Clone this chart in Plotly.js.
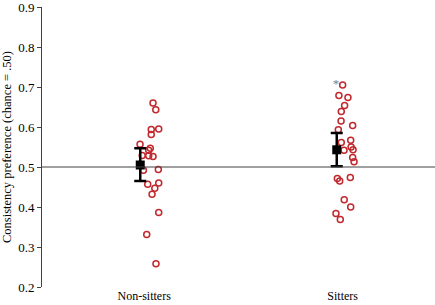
<!DOCTYPE html>
<html><head><meta charset="utf-8">
<script src="https://cdn.plot.ly/plotly-3.0.1.min.js"></script>
<style>html,body{margin:0;padding:0;background:#fff}#c{width:435px;height:305px}</style>
</head><body><div id="c"></div>
<script>
var categories = ["Non-sitters", "Sitters"];
var groupPos = [0.5, 1.5];
var labelPos = [0.52, 1.53];
var nonSittersX = [0.565,0.579,0.556,0.594,0.556,0.499,0.551,0.543,0.510,0.543,0.565,0.516,0.592,0.538,0.594,0.574,0.560,0.594,0.533,0.580];
var nonSittersY = [0.660,0.643,0.594,0.595,0.581,0.557,0.547,0.542,0.529,0.528,0.526,0.492,0.494,0.457,0.460,0.447,0.432,0.386,0.331,0.258];
var sittersX = [1.530,1.511,1.557,1.540,1.523,1.522,1.581,1.508,1.523,1.571,1.573,1.583,1.537,1.581,1.588,1.503,1.515,1.569,1.538,1.571,1.496,1.518];
var sittersY = [0.705,0.679,0.674,0.654,0.639,0.615,0.604,0.593,0.561,0.567,0.550,0.543,0.542,0.524,0.513,0.471,0.465,0.474,0.418,0.400,0.384,0.369];
var means = [0.505, 0.543];
var errUpper = [0.042, 0.042];
var errLower = [0.040, 0.041];
var starX = [1.496], starY = [0.705];
var chance = 0.5;

var FONT = 'Liberation Serif';
var red = '#c0282d';
var traces = [
  {x: nonSittersX, y: nonSittersY, type:'scatter', mode:'markers', showlegend:false,
   marker:{symbol:'circle-open', size:6, color:red, line:{width:1.5, color:red}}},
  {x: sittersX, y: sittersY, type:'scatter', mode:'markers', showlegend:false,
   marker:{symbol:'circle-open', size:6, color:red, line:{width:1.5, color:red}}},
  {x: groupPos, y: means, type:'scatter', mode:'markers', showlegend:false,
   marker:{symbol:'square', size:9, color:'#000'},
   error_y:{type:'data', symmetric:false, array:errUpper, arrayminus:errLower, color:'#000', thickness:2.5, width:6}},
  {x: starX, y: starY, type:'scatter', mode:'text', text:['*'], showlegend:false,
   textfont:{family:FONT, size:13, color:'#808080'}, textposition:'middle center'}
];
var layout = {
  width:435, height:305,
  margin:{l:42, r:0, t:7, b:18},
  paper_bgcolor:'#fff', plot_bgcolor:'#fff',
  font:{family:FONT, size:13, color:'#000'},
  xaxis:{range:[0,2], showgrid:false, zeroline:false, showline:false, ticks:'',
    tickmode:'array', tickvals:labelPos, ticktext:categories, tickfont:{family:FONT, size:12, color:'#000'}},
  yaxis:{range:[0.2,0.9], dtick:0.1, tickformat:'.1f', showgrid:false, zeroline:false,
    showline:true, linecolor:'#404040', linewidth:1, ticks:'outside', ticklen:4, tickcolor:'#404040',
    ticklabeloverflow:'allow',
    tickfont:{family:FONT, size:13, color:'#000'},
    title:{text:'Consistency preference (chance = .50)', font:{family:FONT, size:12.5, color:'#000'}, standoff:4}},
  shapes:[{type:'line', xref:'x', yref:'y', x0:0, x1:2, y0:chance, y1:chance, line:{color:'#404040', width:1}}]
};
Plotly.newPlot('c', traces, layout, {displayModeBar:false, staticPlot:true});
</script></body></html>
